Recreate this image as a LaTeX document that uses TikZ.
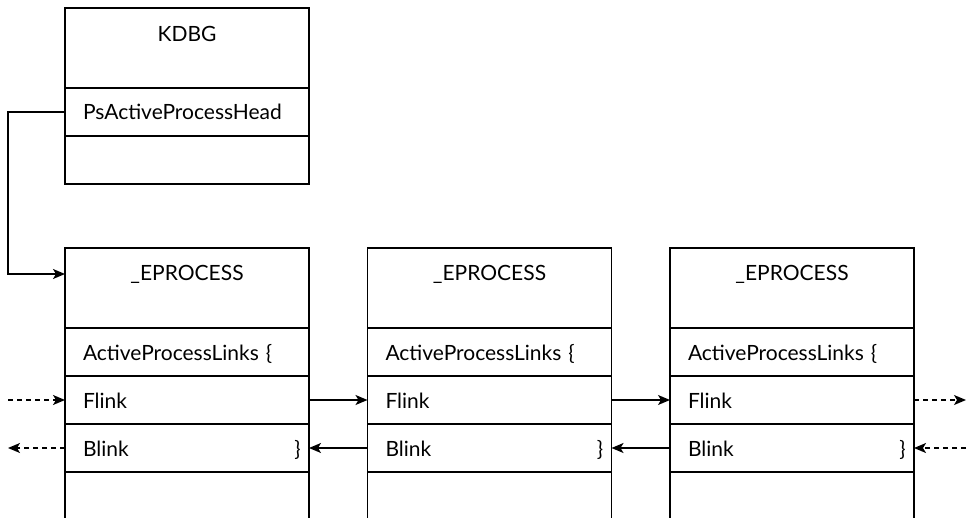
\documentclass[tikz,border=0pt]{standalone}
\usepackage{fontspec}
\setmainfont{Lato}
\usetikzlibrary{arrows.meta,positioning}
\tikzset{
  txt/.style={font=\fontsize{21}{25}\selectfont},
  field/.style={draw,txt,line width=1.4pt,outer sep=0pt,minimum width=244pt,minimum height=48pt,
    inner xsep=18pt,text width=208pt,align=left,text height=18pt,text depth=2pt},
  titlebox/.style={draw,line width=1.4pt,outer sep=0pt,minimum width=244pt,minimum height=80pt},
  link/.style={line width=1.4pt,-{Stealth[length=12pt,width=10pt,inset=3pt]}},
  dashlink/.style={link,dash pattern=on 5pt off 4pt},
}
\begin{document}
\begin{tikzpicture}[x=1pt,y=-1pt]
  \useasboundingbox (0,0) rectangle (968,518);
  \node[titlebox,anchor=north west] (kdbg) at (65,8) {};
  \node[txt] (kdbg-name) at ([yshift=-26pt]kdbg.north) {KDBG};
  \node[field,anchor=north] (kdbg-head) at (kdbg.south) {PsActiveProcessHead};
  \node[field,anchor=north] (kdbg-rest) at (kdbg-head.south) {};
  \foreach \i/\x in {1/65,2/367.5,3/670}{
    \node[titlebox,anchor=north west] (ep\i) at (\x,248) {};
    \node[txt] (ep\i-name) at ([yshift=-26pt]ep\i.north) {\_EPROCESS};
    \node[field,anchor=north] (ep\i-links) at (ep\i.south) {ActiveProcessLinks \{};
    \node[field,anchor=north] (ep\i-flink) at (ep\i-links.south) {Flink};
    \node[field,anchor=north] (ep\i-blink) at (ep\i-flink.south) {Blink};
    \node[txt,anchor=east,inner sep=0pt,text height=18pt,text depth=2pt] (ep\i-close) at ([xshift=-8pt]ep\i-blink.east) {\}};
    \draw[line width=1.4pt] (ep\i-blink.south west) -- ++(0,50) (ep\i-blink.south east) -- ++(0,50);
  }
  \coordinate (left-in) at (8,400);
  \coordinate (left-out) at (8,448);
  \coordinate (right-out) at (966,400);
  \coordinate (right-in) at (966,448);
  \draw[link] (kdbg-head.west) -- ++(-57,0) |- (ep1.west |- ep1-name);
  \draw[link] (ep1-flink.east) -- (ep2-flink.west);
  \draw[link] (ep2-flink.east) -- (ep3-flink.west);
  \draw[link] (ep2-blink.west) -- (ep1-blink.east);
  \draw[link] (ep3-blink.west) -- (ep2-blink.east);
  \draw[dashlink] (left-in) -- (ep1-flink.west);
  \draw[dashlink] (ep1-blink.west) -- (left-out);
  \draw[dashlink] (ep3-flink.east) -- (right-out);
  \draw[dashlink] (right-in) -- (ep3-blink.east);
\end{tikzpicture}
\end{document}
